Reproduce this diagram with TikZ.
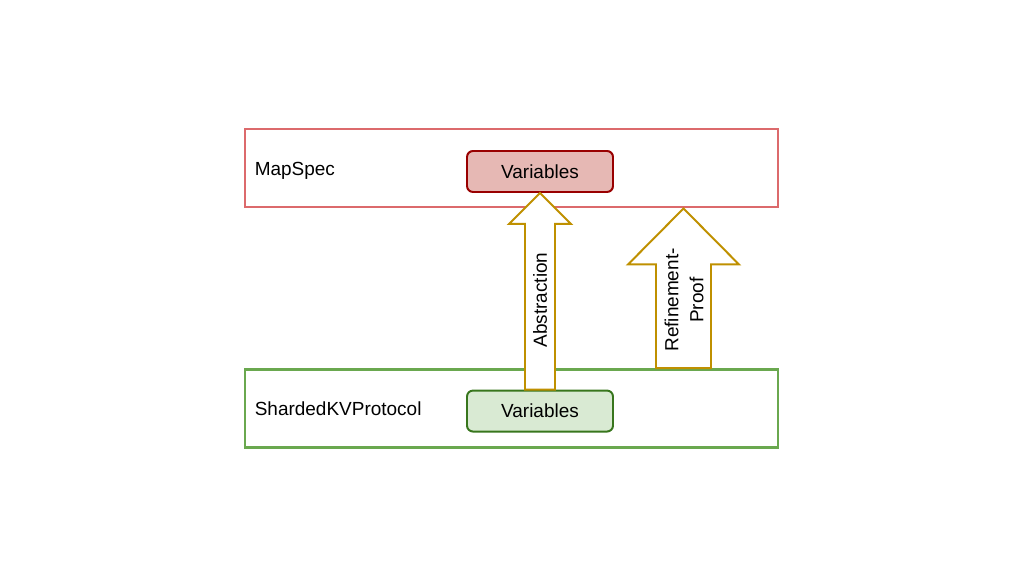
\documentclass[tikz,border=0pt]{standalone}
\usepackage{fontspec}
\setmainfont{Liberation Sans}
\usetikzlibrary{positioning,calc}
\definecolor{specred}{RGB}{220,106,108}
\definecolor{specfill}{RGB}{230,184,180}
\definecolor{specdark}{RGB}{153,0,0}
\definecolor{protogreen}{RGB}{106,168,79}
\definecolor{protofill}{RGB}{217,234,211}
\definecolor{protodark}{RGB}{56,118,29}
\definecolor{gold}{RGB}{191,144,0}
\tikzset{
    %Define style for the two layer boxes
    specbox/.style={
             rectangle,
             draw=specred, line width=2.1pt,
             minimum width=13.325cm, minimum height=1.95cm},
    protobox/.style={
             rectangle,
             draw=protogreen, line width=2.1pt,
             minimum width=13.325cm, minimum height=1.95cm},
    %Define style for the variable boxes
    specvars/.style={
             rectangle, rounded corners=0.15cm,
             draw=specdark, fill=specfill, line width=1.4pt,
             minimum width=3.65cm, minimum height=1.025cm,
             font=\fontsize{13.5}{16}\selectfont},
    protovars/.style={
             rectangle, rounded corners=0.15cm,
             draw=protodark, fill=protofill, line width=1.4pt,
             minimum width=3.65cm, minimum height=1.025cm,
             font=\fontsize{13.5}{16}\selectfont},
    boxlabel/.style={
             inner sep=0pt,
             font=\fontsize{13.5}{16}\selectfont},
    % Define block arrow style
    fatarrowline/.style={
            draw=gold, fill=white,
            line width=1.4pt},
    arrowtext/.style={
            rotate=90, align=center,
            font=\fontsize{13.5}{17.8}\selectfont}
}
% block arrow: from, to, shaft half width, head half width, head length
\newcommand{\fatarrow}[5]{%
  \draw[fatarrowline] ([xshift=-#3]#1) -- ([xshift=-#3,yshift=-#5]#2)
    -- ([xshift=-#4,yshift=-#5]#2) -- (#2) -- ([xshift=#4,yshift=-#5]#2)
    -- ([xshift=#3,yshift=-#5]#2) -- ([xshift=#3]#1) -- cycle;}
\begin{document}
\begin{tikzpicture}
    \useasboundingbox (0,0) rectangle (25.6,14.4);
    \node[specbox] (mapspec) at (12.7875,10.2) {};
    \node[protobox, below=3.99cm of mapspec] (sharded) {};
    \node[boxlabel, right=0.275cm of mapspec.west, yshift=-0.07cm] (mapspeclbl) {MapSpec};
    \node[boxlabel, right=0.275cm of sharded.west] (shardedlbl) {ShardedKVProtocol};
    \node[specvars] (specvar) at ($(mapspec.center)+(0.7125,-0.0875)$) {Variables};
    \node[protovars] (protovar) at ($(sharded.center)+(0.7125,-0.0625)$) {Variables};
    \coordinate (refbot) at ($(sharded.north)+(4.3,0)$);
    \coordinate (reftop) at ($(mapspec.south)+(4.3,0)$);
    \fatarrow{protovar.north}{specvar.south}{0.375cm}{0.775cm}{0.775cm}
    \fatarrow{refbot}{reftop}{0.6875cm}{1.3875cm}{1.4cm}
    \node[arrowtext] (abstxt) at (13.5,6.9) {Abstraction};
    \node[arrowtext] (reftxt) at (17.1,6.9) {Refinement-\\Proof};
\end{tikzpicture}
\end{document}
